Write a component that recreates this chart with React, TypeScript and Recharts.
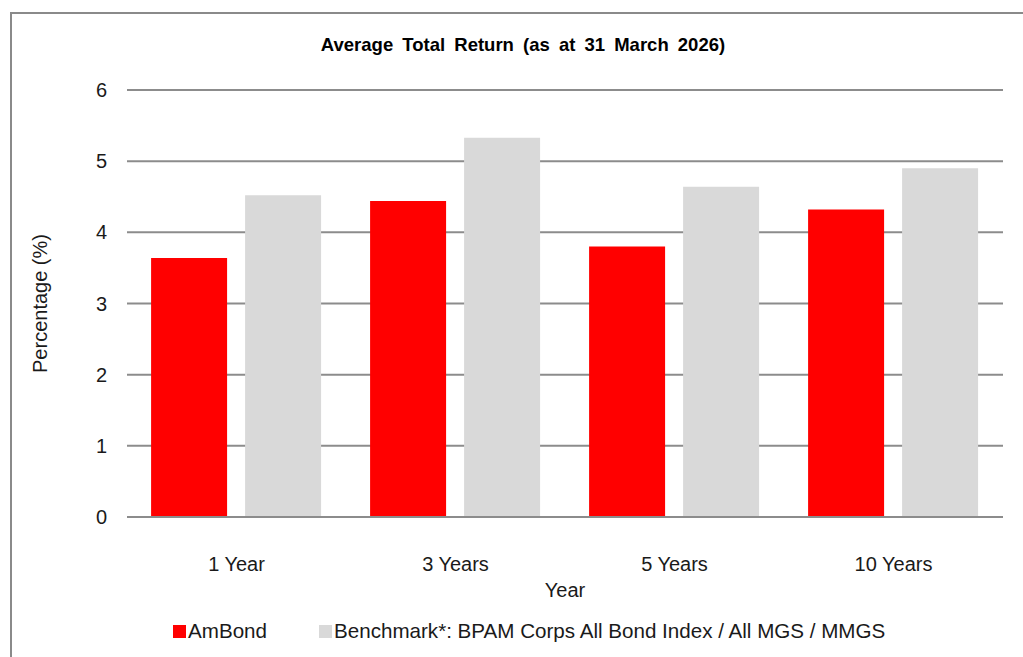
import { BarChart, Bar, XAxis, YAxis, CartesianGrid, Legend } from 'recharts';

// ── Data ────────────────────────────────────────────────────────────
const periods = ['1 Year', '3 Years', '5 Years', '10 Years'];
const amBond = [3.64, 4.44, 3.8, 4.32];
const benchmark = [4.52, 5.33, 4.64, 4.9];
const yTicks = [0, 1, 2, 3, 4, 5, 6];

const SERIES = [
  { key: 'amBond', name: 'AmBond', color: '#ff0000' },
  { key: 'benchmark', name: 'Benchmark*: BPAM Corps All Bond Index / All MGS / MMGS', color: '#d9d9d9' },
];

const data = periods.map((p, i) => ({ period: p, amBond: amBond[i], benchmark: benchmark[i] }));

const FONT = '"Liberation Sans", Arial, sans-serif';

function LegendContent() {
  return (
    <div style={{ display: 'flex', alignItems: 'center', fontSize: 20.6, color: '#1a1a1a', fontFamily: FONT }}>
      {SERIES.map((s, i) => (
        <div key={s.key} style={{ display: 'flex', alignItems: 'center', marginRight: i === 0 ? 52 : 0 }}>
          <span style={{ width: 13, height: 13, background: s.color, display: 'inline-block', marginRight: 2 }} />
          <span>{s.name}</span>
        </div>
      ))}
    </div>
  );
}

export default function App() {
  return (
    <div
      style={{
        position: 'absolute',
        left: 0,
        top: 0,
        width: 1023,
        height: 657,
        overflow: 'hidden',
        background: '#fff',
        fontFamily: FONT,
      }}
    >
      {/* frame */}
      <div
        style={{
          position: 'absolute',
          left: 10,
          top: 12,
          width: 1100,
          height: 700,
          border: '2px solid #8a8a8a',
        }}
      />
      <div
        style={{
          position: 'absolute',
          left: 0,
          width: 1046,
          top: 34,
          textAlign: 'center',
          fontSize: 18.5,
          fontWeight: 'bold',
          wordSpacing: 4,
          color: '#000',
        }}
      >
        Average Total Return (as at 31 March 2026)
      </div>
      <BarChart
        width={1023}
        height={657}
        data={data}
        margin={{ top: 90, right: 20, left: 27, bottom: 36 }}
        barCategoryGap="11%"
        barGap={18}
        style={{ position: 'absolute', left: 0, top: 0 }}
      >
        <CartesianGrid vertical={false} stroke="#8c8c8c" strokeWidth={2} />
        <XAxis
          dataKey="period"
          height={80}
          axisLine={{ stroke: '#8c8c8c', strokeWidth: 2 }}
          tickLine={false}
          tickSize={0}
          tickMargin={40}
          tick={{ fill: '#1a1a1a', fontSize: 20 }}
          label={{ value: 'Year', position: 'insideBottom', offset: 0, fill: '#1a1a1a', fontSize: 20 }}
        />
        <YAxis
          width={100}
          domain={[0, 6]}
          ticks={yTicks}
          axisLine={false}
          tickLine={false}
          tickSize={0}
          tickMargin={20}
          tick={{ fill: '#1a1a1a', fontSize: 20 }}
          label={{
            value: 'Percentage (%)',
            angle: -90,
            position: 'insideLeft',
            offset: 13,
            fill: '#1a1a1a',
            fontSize: 20,
            style: { textAnchor: 'middle' },
          }}
        />
        <Legend
          verticalAlign="bottom"
          content={<LegendContent />}
          wrapperStyle={{ top: 619, left: 173, width: 'auto', height: 24 }}
        />
        {SERIES.map((s) => (
          <Bar key={s.key} dataKey={s.key} name={s.name} fill={s.color} isAnimationActive={false} />
        ))}
      </BarChart>
    </div>
  );
}
